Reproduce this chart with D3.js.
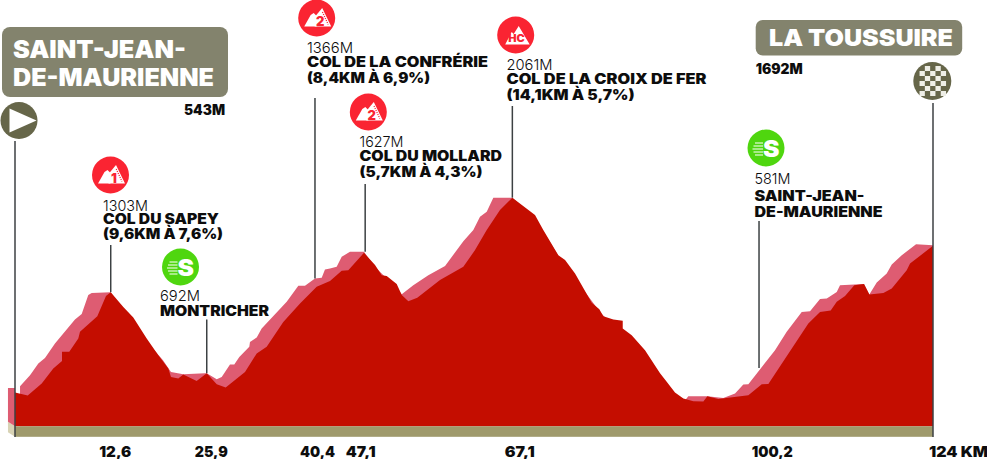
<!DOCTYPE html>
<html>
<head>
<meta charset="utf-8">
<script src="https://cdn.jsdelivr.net/npm/d3@7/dist/d3.min.js"></script>
<style>
    html, body { margin: 0; padding: 0; background: #fff; }
    svg { display: block; }
    text { font-family: Inter, "DejaVu Sans", sans-serif; }
</style>
</head>
<body>
<div id="chart"></div>
<script>
// profile: front (dark) ridge
var frontKm = [0, 1.72, 3.61, 5.17, 6.35, 6.35, 7.33, 8.55, 8.78, 11.12, 12.29, 12.93, 14.63, 15.98, 17.79, 19.36, 20.71, 21.07, 22.06, 22.73, 24.54, 25.9, 27.25, 28.46, 31.07, 32.65, 34, 36.24, 38.5, 40.75, 42.55, 44.13, 45.02, 47.14, 48.63, 49.54, 50.21, 51.56, 52.24, 53.13, 54.34, 57.41, 60.56, 62.14, 63.72, 65.51, 67.18, 70.24, 71.36, 73.39, 74.3, 75.65, 77.9, 78.93, 79.47, 80.82, 82.09, 82.09, 83.3, 85.1, 87.13, 88.03, 89.15, 90.28, 91.63, 92.98, 93.52, 95, 99.06, 100.87, 101.76, 107.16, 108.74, 110.18, 111, 112.12, 113.37, 114.68, 115.4, 117.3, 118.43, 120.45, 120.9, 124];
var frontElev = [494, 470, 567, 688, 749, 822, 822, 930, 983, 1109, 1271, 1303, 1184, 1099, 930, 795, 688, 620, 607, 639, 588, 650, 561, 534, 660, 809, 862, 1063, 1212, 1346, 1392, 1475, 1480, 1620, 1521, 1440, 1434, 1368, 1279, 1230, 1257, 1400, 1507, 1642, 1803, 1964, 2064, 1924, 1803, 1601, 1561, 1454, 1217, 1166, 1109, 1083, 1072, 1010, 956, 835, 650, 580, 494, 446, 424, 422, 464, 442, 472, 561, 563, 1051, 1144, 1155, 1225, 1271, 1359, 1368, 1284, 1297, 1333, 1480, 1534, 1676];

// back (pink) ridge, it drops under the front one where it is not visible
var backKm = [-0.95, 0.68, 2.03, 3.15, 4.05, 5.4, 8.1, 9.01, 9.9, 10.36, 12.93, 13.1, 18.24, 19.99, 21.07, 22.73, 25.67, 25.9, 27.25, 27.92, 29.04, 29.62, 30.3, 31.65, 31.74, 32.65, 33.32, 36.7, 38.27, 39.17, 40.52, 41.43, 41.87, 42.55, 43.45, 44.13, 45.25, 47.14, 48.63, 51.56, 52.24, 53.8, 55.83, 58.09, 60.56, 61.91, 62.81, 63.72, 64.61, 67.18, 70.24, 73.6, 79.02, 87.13, 89.15, 90.5, 90.95, 93.52, 95.68, 97.26, 98.38, 99.06, 102.66, 104.24, 106.27, 107.39, 108.74, 109.65, 111, 111.44, 114.68, 115.4, 116.4, 117.75, 118.43, 119.78, 121.71, 124];
var backElev = [531, 545, 634, 728, 773, 889, 1083, 1126, 1279, 1297, 1303, 1287, 876, 755, 660, 642, 650, 650, 601, 620, 720, 720, 781, 862, 902, 938, 1010, 1225, 1354, 1354, 1413, 1418, 1486, 1494, 1507, 1588, 1628, 1628, 1505, 1335, 1287, 1359, 1440, 1513, 1714, 1803, 1910, 1951, 2064, 2064, 1900, 1577, 1142, 634, 480, 430, 464, 464, 451, 486, 559, 561, 835, 983, 1144, 1150, 1247, 1252, 1305, 1359, 1368, 1284, 1381, 1454, 1526, 1601, 1688, 1680];

var baseElev = 222;

var tickKm = [12.6, 25.9, 40.4, 47.1, 67.1, 100.2, 124];
var tickLabels = ["12,6", "25,9", "40,4", "47,1", "67,1", "100,2", "124 KM"];

// the poles stop on the ridge they touch in the picture
var climbKm = [12.93, 40.52, 47.3, 67.18];
var climbElev = [1303, 1413, 1628, 2064];
var climbCat = ["1", "2", "2", "HC"];
var climbAlt = ["1303M", "1366M", "1627M", "2061M"];
var climbName = ["COL DU SAPEY", "COL DE LA CONFRÉRIE", "COL DU MOLLARD", "COL DE LA CROIX DE FER"];
var climbInfo = ["(9,6KM À 7,6%)", "(8,4KM À 6,9%)", "(5,7KM À 4,3%)", "(14,1KM À 5,7%)"];

var sprintKm = [25.9, 100.5];
var sprintElev = [650, 692];
var sprintAlt = ["692M", "581M"];
var sprintName = [["MONTRICHER"], ["SAINT-JEAN-", "DE-MAURIENNE"]];

var startName = ["SAINT-JEAN-", "DE-MAURIENNE"];
var startAlt = "543M";
var finishName = "LA TOUSSUIRE";
var finishAlt = "1692M";

var width = 987, height = 459;
var RED = "#c40d00", PINK = "#de5c72", TAN = "#9f9a6c", TAN_LIGHT = "#d8d3b5",
    BOX = "#83836d", ICON = "#666649", POLE = "#3c4143", CLIMB = "#fa2432", SPRINT = "#4fd60f", INK = "#0d0d0d";

var x = d3.scaleLinear().domain([0, 124]).range([15, 933]);
var y = d3.scaleLinear().domain([baseElev, 2064]).range([426.3, 197.7]);

var svg = d3.select("#chart").append("svg")
    .attr("width", width)
    .attr("height", height);

// text fitted to the width measured on the picture
function label(g, px, py, str, size, weight, fit, fill) {
    var t = g.append("text")
        .attr("x", px)
        .attr("y", py)
        .attr("font-size", size)
        .attr("font-weight", weight)
        .attr("fill", fill || INK)
        .text(str);
    if (fit) t.attr("textLength", fit).attr("lengthAdjust", "spacingAndGlyphs");
    return t;
}

function pole(px, y1, y2) {
    svg.append("line")
        .attr("x1", px).attr("x2", px)
        .attr("y1", y1).attr("y2", y2)
        .attr("stroke", POLE)
        .attr("stroke-width", 1.5);
}

// ---- profile ----
var area = d3.area()
    .x(function(d) { return x(d[0]); })
    .y0(y(baseElev))
    .y1(function(d) { return y(d[1]); });

var back = d3.zip(backKm, backElev);
var front = d3.zip(frontKm, frontElev);

// left side of the block
svg.append("path")
    .attr("d", d3.line()([
        [x(-0.95), y(baseElev) - 4.5], [x(0), y(baseElev)],
        [x(0), y(baseElev) + 10.5], [x(-0.95), y(baseElev) + 6]
    ]) + "Z")
    .attr("fill", TAN_LIGHT);

svg.append("path")
    .attr("d", d3.line()([
        [x(-0.95), y(531)], [x(0), y(531)],
        [x(0), y(baseElev)], [x(-0.95), y(baseElev) - 4.5]
    ]) + "Z")
    .attr("fill", PINK);

svg.append("path").datum(back.slice(1)).attr("d", area).attr("fill", PINK);
svg.append("path").datum(front).attr("d", area).attr("fill", RED);

svg.append("rect")
    .attr("x", x(0))
    .attr("y", y(baseElev))
    .attr("width", x(124) - x(0))
    .attr("height", 10.5)
    .attr("fill", TAN);

// ---- km labels ----
var tickShift = [7, 4.5, 3.5, -3, 8, 15.5, 0];
svg.append("g").selectAll("text")
    .data(tickLabels)
    .enter().append("text")
    .attr("x", function(d, i) { return x(tickKm[i]) + tickShift[i]; })
    .attr("y", 456.5)
    .attr("text-anchor", function(d, i) { return i == 6 ? "start" : "middle"; })
    .attr("dx", function(d, i) { return i == 6 ? -4 : 0; })
    .attr("font-size", 15)
    .attr("font-weight", 900)
    .attr("fill", INK)
    .attr("textLength", function(d, i) { return [32, 33, 35, 30, 30, 41, 59][i]; })
    .attr("lengthAdjust", "spacingAndGlyphs")
    .text(function(d) { return d; });

// ---- start and finish ----
pole(x(0), 141, 437);
pole(x(124), 103, 437);

svg.append("rect").attr("x", 2).attr("y", 27).attr("width", 226).attr("height", 70).attr("rx", 8).attr("fill", BOX);
label(svg, 13, 58, startName[0], 24, 900, 173, "#fff");
label(svg, 13, 86, startName[1], 24, 900, 201, "#fff");
label(svg, 184, 114.5, startAlt, 14, 900, 41);

svg.append("circle").attr("cx", 19).attr("cy", 120.5).attr("r", 18.5).attr("fill", ICON);
svg.append("path").attr("d", "M9.5,108.5L36.5,120.5L9.5,132.5Z").attr("fill", "#fff");

svg.append("rect").attr("x", 755.7).attr("y", 20).attr("width", 206.5).attr("height", 35.5).attr("rx", 7).attr("fill", BOX);
label(svg, 769, 46, finishName, 23.5, 900, 184, "#fff");
label(svg, 755.7, 74, finishAlt, 14, 900, 47);

var flag = svg.append("g").attr("transform", "translate(932.3,81)");
flag.append("circle").attr("r", 19).attr("fill", ICON);
d3.range(-3, 3).forEach(function(r) {
    d3.range(-2, 3).forEach(function(c) {
        if ((r + c + 6) % 2 == 0) {
            flag.append("rect")
                .attr("x", c * 5.3 - 2.15).attr("y", r * 5)
                .attr("width", 5.3).attr("height", 5)
                .attr("fill", "#eeeee6");
        }
    });
});

// ---- climbs ----
var climbLayout = [
    { cx: 110.5, cy: 175, tx: 103, ty: [211, 223.5, 238.5], top: 245, fit: [45, 116, 120] },
    { cx: 316.7, cy: 18, tx: 307, ty: [53, 66.5, 83], top: 98, fit: [46, 181, 123] },
    { cx: 368.3, cy: 112, tx: 359.5, ty: [147, 160.5, 177], top: 184, fit: [44, 142.5, 123] },
    { cx: 515.7, cy: 35, tx: 506.5, ty: [70, 83.5, 100], top: 106, fit: [46, 200, 128] }
];

climbKm.forEach(function(km, i) {
    var l = climbLayout[i];
    pole(x(km), l.top, y(climbElev[i]));
    label(svg, l.tx, l.ty[0], climbAlt[i], 15, 300, l.fit[0]);
    label(svg, l.tx, l.ty[1], climbName[i], 14, 900, l.fit[1]);
    label(svg, l.tx, l.ty[2], climbInfo[i], 14, 900, l.fit[2]);

    var g = svg.append("g").attr("transform", "translate(" + l.cx + "," + l.cy + ")");
    g.append("circle").attr("r", 18.5).attr("fill", CLIMB);
    if (climbCat[i] == "HC") {
        g.append("path").attr("d", "M-10.5,9.5L-4,-3L-2,-1L3,-9L14,9.5Z").attr("fill", "#fff");
        label(g, -7.5, 7, "HC", 10, 900, 16.5, CLIMB);
    } else {
        g.append("path").attr("d", "M-12.5,8.5L-6,-3L-3,-5L0,-2L0,8.5Z").attr("fill", "#fff");
        g.append("path").attr("d", "M-2,-1L5.5,-10L14.5,8.5L-2,8.5Z").attr("fill", "#fff");
        g.append("line")
            .attr("x1", 5.7).attr("y1", -6)
            .attr("x2", 11.5).attr("y2", 6.5)
            .attr("stroke", CLIMB)
            .attr("stroke-width", 1.2)
            .attr("stroke-dasharray", "1.2,1");
        label(g, 3.5, 8, climbCat[i], 13, 900, null, CLIMB).attr("text-anchor", "middle");
    }
});

// ---- sprints ----
var sprintLayout = [
    { cx: 180.5, cy: 267, tx: 160, ty: [301, 316], top: 319.5, fit: [40, [109]] },
    { cx: 766, cy: 148, tx: 754.5, ty: [184, 200.5, 216.5], top: 221, fit: [36, [110, 128]] }
];

sprintKm.forEach(function(km, i) {
    var l = sprintLayout[i];
    pole(x(km), l.top, y(sprintElev[i]));
    label(svg, l.tx, l.ty[0], sprintAlt[i], 15, 300, l.fit[0]);
    sprintName[i].forEach(function(s, j) {
        label(svg, l.tx, l.ty[j + 1], s, 14, 900, l.fit[1][j]);
    });

    var g = svg.append("g").attr("transform", "translate(" + l.cx + "," + l.cy + ")");
    g.append("circle").attr("r", 18.5).attr("fill", SPRINT);
    [[-11, -5], [-12.5, -2], [-13.5, 1], [-12.5, 4], [-11, 7]].forEach(function(s) {
        g.append("rect").attr("x", s[0]).attr("y", s[1] - 0.5).attr("width", -s[0] - 3).attr("height", 1).attr("fill", "#fff");
    });
    label(g, -3, 8.5, "S", 23, 900, 16.5, "#fff");
});
</script>
</body>
</html>
